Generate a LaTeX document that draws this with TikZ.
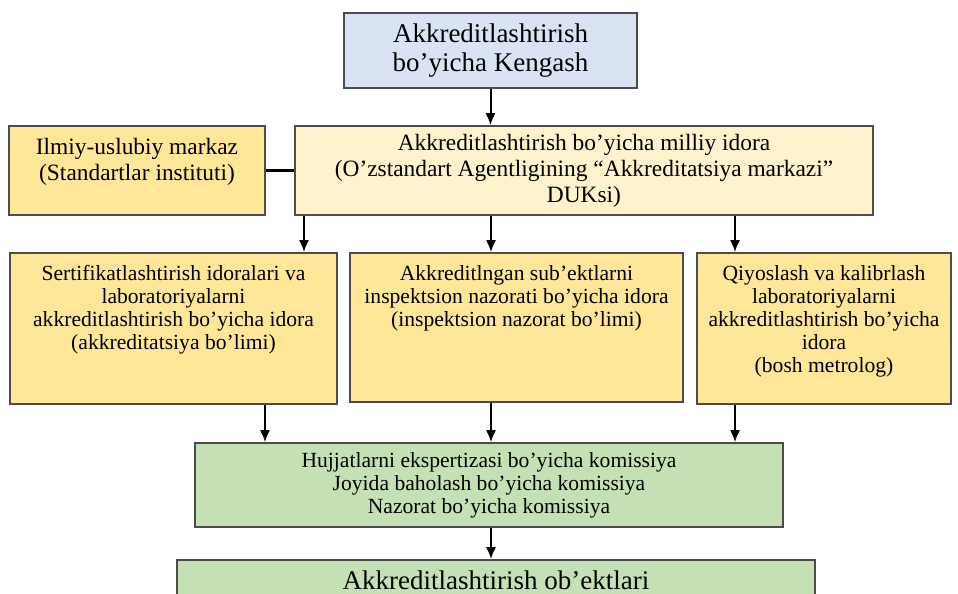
\documentclass[tikz,border=0pt]{standalone}
\usepackage{fontspec}
\setmainfont{Liberation Serif}
\usetikzlibrary{arrows.meta}
\definecolor{kengashblue}{HTML}{DAE3F3}
\definecolor{idoralight}{HTML}{FFF2CC}
\definecolor{idoragold}{HTML}{FFE699}
\definecolor{komgreen}{HTML}{C5E0B4}
\newcommand{\topbox}[3]{\parbox[c][#1][t]{#2}{\centering #3}}
\begin{document}
\begin{tikzpicture}[x=0.5pt,y=-0.5pt,>={Latex[length=6pt,width=5pt]},
    orgbox/.style={draw=black!70, line width=0.8pt, align=center, inner sep=0pt},
    bigtext/.style={font=\fontsize{13.5}{14.5}\selectfont},
    midtext/.style={font=\fontsize{11.7}{13}\selectfont},
    smalltext/.style={font=\fontsize{10.8}{11.5}\selectfont},
    arr/.style={->, line width=1pt}]
    \useasboundingbox (0,0) rectangle (958,594);
    \clip (0,0) rectangle (958,594);
    % upper part
    \node[orgbox, bigtext, fill=kengashblue, minimum width=146.5pt, minimum height=37.5pt] (kengash) at (490.5,50.5)
        {Akkreditlashtirish\\bo’yicha Kengash};
    \node[orgbox, midtext, fill=idoralight, minimum width=289pt, minimum height=44.5pt] (milliy) at (584,170.5)
        {Akkreditlashtirish bo’yicha milliy idora\\(O’zstandart Agentligining “Akkreditatsiya markazi”\\DUKsi)};
    \node[orgbox, midtext, fill=idoragold, minimum width=128pt, minimum height=44.5pt] (ilmiy) at (137,170.5)
        {\topbox{32pt}{126pt}{Ilmiy-uslubiy markaz\\(Standartlar instituti)}};
    % offices
    \node[orgbox, smalltext, fill=idoragold, minimum width=163.5pt, minimum height=75.5pt] (sert) at (173.5,328.5)
        {\topbox{63pt}{160pt}{Sertifikatlashtirish idoralari va\\laboratoriyalarni\\akkreditlashtirish bo’yicha idora\\(akkreditatsiya bo’limi)}};
    \node[orgbox, smalltext, fill=idoragold, minimum width=166.5pt, minimum height=74.5pt] (insp) at (516.5,327.5)
        {\topbox{62pt}{163pt}{Akkreditlngan sub’ektlarni\\inspektsion nazorati bo’yicha idora\\(inspektsion nazorat bo’limi)}};
    \node[orgbox, smalltext, fill=idoragold, minimum width=127pt, minimum height=75.5pt] (qiyos) at (824,328.5)
        {\topbox{63pt}{124pt}{Qiyoslash va kalibrlash\\laboratoriyalarni\\akkreditlashtirish bo’yicha\\idora\\(bosh metrolog)}};
    % commissions
    \node[orgbox, smalltext, fill=komgreen, minimum width=294pt, minimum height=42pt] (komis) at (489,485)
        {Hujjatlarni ekspertizasi bo’yicha komissiya\\Joyida baholash bo’yicha komissiya\\Nazorat bo’yicha komissiya};
    \node[orgbox, bigtext, fill=komgreen, minimum width=319pt, minimum height=20pt] (obekt) at (496,580)
        {Akkreditlashtirish ob’ektlari};
    \coordinate (c1) at (304,0);
    \coordinate (c2) at (491,0);
    \coordinate (c3) at (735,0);
    \coordinate (c4) at (265,0);
    \draw[arr] (kengash.south) -- (kengash.south |- milliy.north);
    \draw[line width=1.6pt] (ilmiy.east) -- (milliy.west);
    \draw[arr] (milliy.south -| c1) -- (sert.north -| c1);
    \draw[arr] (milliy.south -| c2) -- (insp.north -| c2);
    \draw[arr] (milliy.south -| c3) -- (qiyos.north -| c3);
    \draw[arr] (sert.south -| c4) -- (komis.north -| c4);
    \draw[arr] (insp.south -| c2) -- (komis.north -| c2);
    \draw[arr] (qiyos.south -| c3) -- (komis.north -| c3);
    \draw[arr] (komis.south -| c2) -- (obekt.north -| c2);
\end{tikzpicture}
\end{document}
